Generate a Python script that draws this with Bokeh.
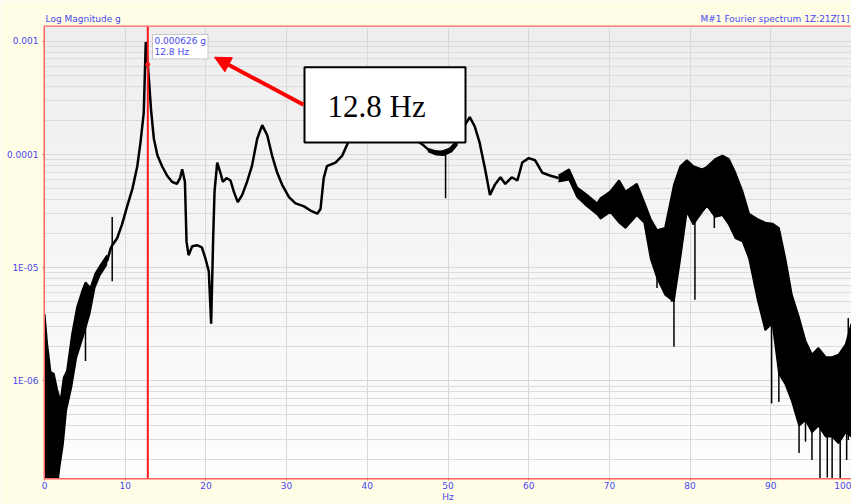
import numpy as np
from math import log10
from bokeh.plotting import figure
from bokeh.models import (Range1d, FixedTicker, Span, Label, BoxAnnotation,
                          Arrow, NormalHead, LinearAxis)
from bokeh.embed import file_html
from bokeh.resources import INLINE

# ---------------- data ----------------
# main (clean) trace of the Fourier spectrum, Hz / g
line_hz = [6.9, 7.8, 8.2, 8.4, 9.0, 9.6, 10.25, 10.9, 11.5, 11.9, 12.3, 12.55, 12.8,
           13.0, 13.2, 13.55, 14.0, 14.6, 15.2, 15.8, 16.4, 16.8, 17.06, 17.4, 17.6,
           17.85, 18.3, 18.9, 19.5, 19.95, 20.36, 20.65, 20.9, 21.07, 21.4, 21.8, 22.1,
           22.55, 23.05, 23.46, 23.95, 24.5, 25.1, 25.7, 26.36, 26.98, 27.6, 28.2,
           28.84, 29.45, 30.3, 31.1, 32.1, 32.96, 33.8, 34.2, 34.6, 35.0, 36.06, 36.9,
           37.7, 38.5, 40.0, 42.0, 44.0, 45.5, 46.6, 47.0, 47.8, 49.1, 50.2, 51.0,
           52.0, 52.7, 53.3, 53.9, 54.6, 55.2, 55.8, 56.5, 57.1, 57.9, 58.6, 59.2,
           60.0, 60.8, 61.7, 62.7, 63.7]
line_g = [9.5e-6, 1.17e-5, 1.48e-5, 1.58e-5, 1.82e-5, 2.4e-5, 3.5e-5, 5.0e-5, 7.9e-5,
          1.29e-4, 2.35e-4, 9.9e-4, 6.26e-4, 4.0e-4, 2.5e-4, 1.38e-4, 9.8e-5, 7.8e-5,
          6.5e-5, 5.75e-5, 5.5e-5, 6.2e-5, 7.4e-5, 5.75e-5, 1.7e-5, 1.29e-5, 1.55e-5,
          1.58e-5, 1.51e-5, 1.2e-5, 9.3e-6, 3.2e-6, 1.82e-5, 4.7e-5, 8.5e-5, 6.9e-5,
          5.75e-5, 6.2e-5, 5.9e-5, 4.7e-5, 3.8e-5, 4.4e-5, 5.75e-5, 7.9e-5, 1.38e-4,
          1.82e-4, 1.48e-4, 9.8e-5, 6.9e-5, 5.4e-5, 4.2e-5, 3.7e-5, 3.5e-5, 3.2e-5,
          3.0e-5, 3.3e-5, 6.2e-5, 7.9e-5, 8.5e-5, 9.8e-5, 1.32e-4, 1.66e-4, 2.0e-4,
          1.9e-4, 1.6e-4, 1.41e-4, 1.26e-4, 1.2e-4, 1.07e-4, 1.05e-4, 1.12e-4, 1.29e-4,
          1.78e-4, 2.14e-4, 1.78e-4, 1.29e-4, 7.4e-5, 4.4e-5, 5.4e-5, 6.3e-5, 5.5e-5,
          6.3e-5, 5.9e-5, 8.5e-5, 9.3e-5, 8.9e-5, 6.9e-5, 6.5e-5, 6.2e-5]

# noisy low-frequency band: upper / lower envelope
low_hz = [0.0, 0.33, 0.74, 1.15, 1.57, 1.98, 2.4, 2.8, 3.43, 4.05, 4.67, 5.08, 5.7,
          6.32, 6.94, 7.77]
low_hi_g = [3.9e-6, 2.1e-6, 1.2e-6, 1.15e-6, 8.3e-7, 6.6e-7, 1.07e-6, 1.23e-6, 2.6e-6,
            4.5e-6, 6.2e-6, 7.4e-6, 6.6e-6, 8.9e-6, 1.05e-5, 1.29e-5]
low_lo_g = [1e-7, 1e-7, 1e-7, 1e-7, 1e-7, 1.74e-7, 2.75e-7, 5.5e-7, 8.7e-7, 1.6e-6,
            2.2e-6, 2.75e-6, 3.9e-6, 6.6e-6, 8.5e-6, 1.05e-5]

# slightly noisy part around 50 Hz
mid_hz = [47.5, 48.5, 49.5, 50.5, 51.2]
mid_hi_g = [1.15e-4, 1.09e-4, 1.08e-4, 1.17e-4, 1.3e-4]
mid_lo_g = [1.05e-4, 9.8e-5, 9.7e-5, 1.05e-4, 1.2e-4]

# noisy high-frequency band: upper / lower envelope
high_hz = [63.7, 65.0, 66.0, 67.2, 68.5, 68.9, 70.1, 71.2, 72.0, 73.4, 74.3, 75.1, 75.9,
           76.9, 78.0, 78.8, 79.6, 80.4, 81.5, 82.1, 83.1, 84.0, 84.8, 85.6, 86.5,
           87.3, 88.3, 89.3, 90.2, 91.0, 91.8, 92.6, 93.5, 94.3, 95.1, 95.9, 96.8,
           97.6, 98.4, 99.3, 100.0]
high_hi_g = [6.5e-5, 7.4e-5, 5.1e-5, 4.4e-5, 3.7e-5, 4.1e-5, 4.7e-5, 5.9e-5, 4.7e-5,
             5.5e-5, 3.8e-5, 2.7e-5, 2.14e-5, 2.24e-5, 5.4e-5, 7.9e-5, 8.9e-5, 7.9e-5,
             7.4e-5, 7.8e-5, 9.1e-5, 9.8e-5, 9.1e-5, 6.9e-5, 4.7e-5, 3.0e-5, 2.7e-5,
             2.5e-5, 2.45e-5, 2.24e-5, 1.2e-5, 5.75e-6, 3.6e-6, 2.24e-6, 1.7e-6,
             1.95e-6, 1.62e-6, 1.62e-6, 1.7e-6, 2.1e-6, 3.2e-6]
high_lo_g = [5.75e-5, 6.0e-5, 4.2e-5, 3.5e-5, 2.95e-5, 2.7e-5, 3.1e-5, 2.5e-5, 2.24e-5,
             2.9e-5, 2.5e-5, 1.2e-5, 8.1e-6, 5.75e-6, 5.0e-6, 1.2e-5, 3.1e-5, 2.4e-5,
             3.1e-5, 3.5e-5, 2.8e-5, 2.9e-5, 2.4e-5, 1.82e-5, 1.7e-5, 1.2e-5, 5.4e-6,
             2.8e-6, 3.2e-6, 1.15e-6, 9.3e-7, 6.6e-7, 4.0e-7, 4.5e-7, 3.5e-7, 4.0e-7,
             3.2e-7, 3.2e-7, 2.8e-7, 3.5e-7, 3.2e-7]

# individual noise spikes: frequency, bottom, top
spike_hz = [5.08, 8.39, 49.7, 75.9, 76.4, 77.7, 78.0, 80.6, 83.0, 86.0, 89.4, 90.1,
            91.0, 91.5, 92.6, 93.5, 94.3, 95.1, 96.1, 97.0, 97.6, 98.6, 99.4, 99.6]
spike_lo_g = [1.5e-6, 7.6e-6, 4.1e-5, 6.6e-6, 7.0e-6, 5.0e-6, 2.0e-6, 5.2e-6, 2.24e-5,
              1.8e-5, 2.8e-6, 6.3e-7, 6.5e-7, 1.0e-6, 6.6e-7, 2.3e-7, 2.9e-7, 2.0e-7,
              1e-7, 1.4e-7, 1e-7, 1e-7, 2.0e-7, 3.0e-7]
spike_hi_g = [5.0e-6, 2.8e-5, 1.05e-4, 2.0e-5, 2.0e-5, 2.5e-5, 4.0e-5, 6.0e-5, 6.0e-5,
              5.0e-5, 2.0e-5, 2.0e-5, 2.0e-5, 1.2e-5, 5.0e-6, 3.0e-6, 2.0e-6, 1.5e-6,
              1.6e-6, 1.6e-6, 1.6e-6, 1.7e-6, 2.1e-6, 3.6e-6]

# cursor readout
cursor_hz = 12.8
cursor_g = 0.000626

# axis ticks and texts
x_ticks = [0, 10, 20, 30, 40, 50, 60, 70, 80, 90, 100]
y_ticks = [1e-6, 1e-5, 1e-4, 1e-3]
y_tick_labels = ["1E-06", "1E-05", "0.0001", "0.001"]
title_left = "Log Magnitude g"
title_right = "M#1 Fourier spectrum 1Z:21Z[1]"
x_label = "Hz"

# ---------------- layout ----------------
W, H = 851, 504
BL, BT, BB = 44, 26, 22
XLO, XHI = 0, 100
YLO, YHI = 1.37e-7, 1.355e-3
FRAME_H = H - BT - BB
DEC = FRAME_H / (log10(YHI) - log10(YLO))
PX_HZ = (W - BL) / (XHI - XLO)


def fx(px):
    return XLO + (px - BL) / PX_HZ


def fy(py):
    return 10 ** (log10(YHI) - (py - BT) / DEC)


BLUE = "#4848ee"
RED_FRAME = "#ff6464"
YELLOW = "#fffde6"
FONT = "DejaVu Sans"

p = figure(width=W, height=H, output_backend="svg", toolbar_location=None,
           y_axis_type="log", x_range=Range1d(XLO, XHI), y_range=Range1d(YLO, YHI),
           min_border_left=BL, min_border_right=0, min_border_top=BT,
           min_border_bottom=BB)
p.border_fill_color = YELLOW
p.background_fill_color = "#f7f7f7"
p.outline_line_color = RED_FRAME
p.outline_line_width = 2

# background gradient (light gray at top to white at bottom)
n = 64
shade = np.linspace(0xfe, 0xee, n).astype(np.uint8)
img = np.zeros((n, 1), dtype=np.uint32)
view = img.view(dtype=np.uint8).reshape((n, 1, 4))
view[:, 0, 0] = shade
view[:, 0, 1] = shade
view[:, 0, 2] = shade
view[:, 0, 3] = 255
p.image_rgba(image=[img], x=XLO, y=YLO, dw=XHI - XLO, dh=YHI - YLO, level="image")

# axes / grids
yt = FixedTicker(ticks=y_ticks,
                 minor_ticks=[m * 10.0 ** e for e in range(-7, -2) for m in range(2, 10)])
p.yaxis.ticker = yt
p.ygrid.ticker = yt
p.yaxis.major_label_overrides = {t: s for t, s in zip(y_ticks, y_tick_labels)}
xt = FixedTicker(ticks=x_ticks)
p.xaxis.ticker = xt
p.xgrid.ticker = xt
p.xaxis.major_label_overrides = {t: str(t) for t in x_ticks}

for ax in (p.xaxis[0], p.yaxis[0]):
    ax.axis_line_color = RED_FRAME
    ax.axis_line_width = 1
    ax.major_tick_line_color = RED_FRAME
    ax.major_tick_out = 2
    ax.major_tick_in = 0
    ax.minor_tick_line_color = None
    ax.major_label_text_color = BLUE
    ax.major_label_text_font = FONT
    ax.major_label_text_font_size = "9px"
    ax.major_label_standoff = 2

p.xaxis.major_label_standoff = 1
p.xaxis.axis_label = x_label
p.xaxis.axis_label_standoff = 0
p.xaxis.axis_label_text_color = BLUE
p.xaxis.axis_label_text_font = FONT
p.xaxis.axis_label_text_font_size = "9px"
p.xaxis.axis_label_text_font_style = "normal"

# header texts drawn as labels of an extra axis above the frame
left_center = fx(45 + 37.7)
right_center = fx(849 - 74.5)
top_ax = LinearAxis(ticker=FixedTicker(ticks=[left_center, right_center]),
                    major_label_overrides={left_center: title_left,
                                           right_center: title_right})
top_ax.axis_line_color = None
top_ax.major_tick_line_color = None
top_ax.minor_tick_line_color = None
top_ax.major_tick_out = 0
top_ax.major_tick_in = 0
top_ax.major_label_standoff = 3
top_ax.major_label_text_color = BLUE
top_ax.major_label_text_font = FONT
top_ax.major_label_text_font_size = "9px"
p.add_layout(top_ax, "above")

p.xgrid.grid_line_color = "#d8d8d8"
p.ygrid.grid_line_color = "#d8d8d8"
p.ygrid.minor_grid_line_color = "#dcdcdc"

# spectrum
p.varea(x=low_hz, y1=low_lo_g, y2=low_hi_g, fill_color="black")
p.varea(x=mid_hz, y1=mid_lo_g, y2=mid_hi_g, fill_color="black")
p.varea(x=high_hz, y1=high_lo_g, y2=high_hi_g, fill_color="black")
p.line(low_hz, low_hi_g, line_color="black", line_width=2)
p.line(high_hz, high_hi_g, line_color="black", line_width=2)
p.line(high_hz, high_lo_g, line_color="black", line_width=1.5)
p.line(line_hz, line_g, line_color="black", line_width=2.5)
p.segment(x0=spike_hz, y0=spike_lo_g, x1=spike_hz, y1=spike_hi_g,
          line_color="black", line_width=1.5)

# cursor
p.add_layout(Span(location=cursor_hz, dimension="height", line_color="#ff1a1a",
                  line_width=2))
p.scatter([cursor_hz], [cursor_g], size=4, color="#ff1a1a")
p.add_layout(Label(x=fx(152), y=fy(34), text=f"{cursor_g:.6f} g\n{cursor_hz} Hz",
                   text_align="left", text_baseline="top", text_color=BLUE,
                   text_font=FONT, text_font_size="9px", text_line_height=1.05,
                   background_fill_color="white", border_line_color="#c4c4c4",
                   padding=2))

# callout box with arrow
p.add_layout(BoxAnnotation(left=fx(304), right=fx(465), top=fy(67), bottom=fy(143),
                           fill_color="white", fill_alpha=1, line_color="black",
                           line_width=2, line_alpha=1))
p.add_layout(Label(x=fx(327), y=fy(107), text=f"{cursor_hz} Hz", text_align="left",
                   text_baseline="alphabetic", text_color="black",
                   text_font="Liberation Serif", text_font_size="31px"))
p.add_layout(Arrow(end=NormalHead(size=16, fill_color="#ff0000", line_color="#ff0000"),
                   x_start=fx(303), y_start=fy(105), x_end=fx(214), y_end=fy(57),
                   line_color="#ff0000", line_width=4))

open("out.html", "w").write(file_html(p, INLINE))
